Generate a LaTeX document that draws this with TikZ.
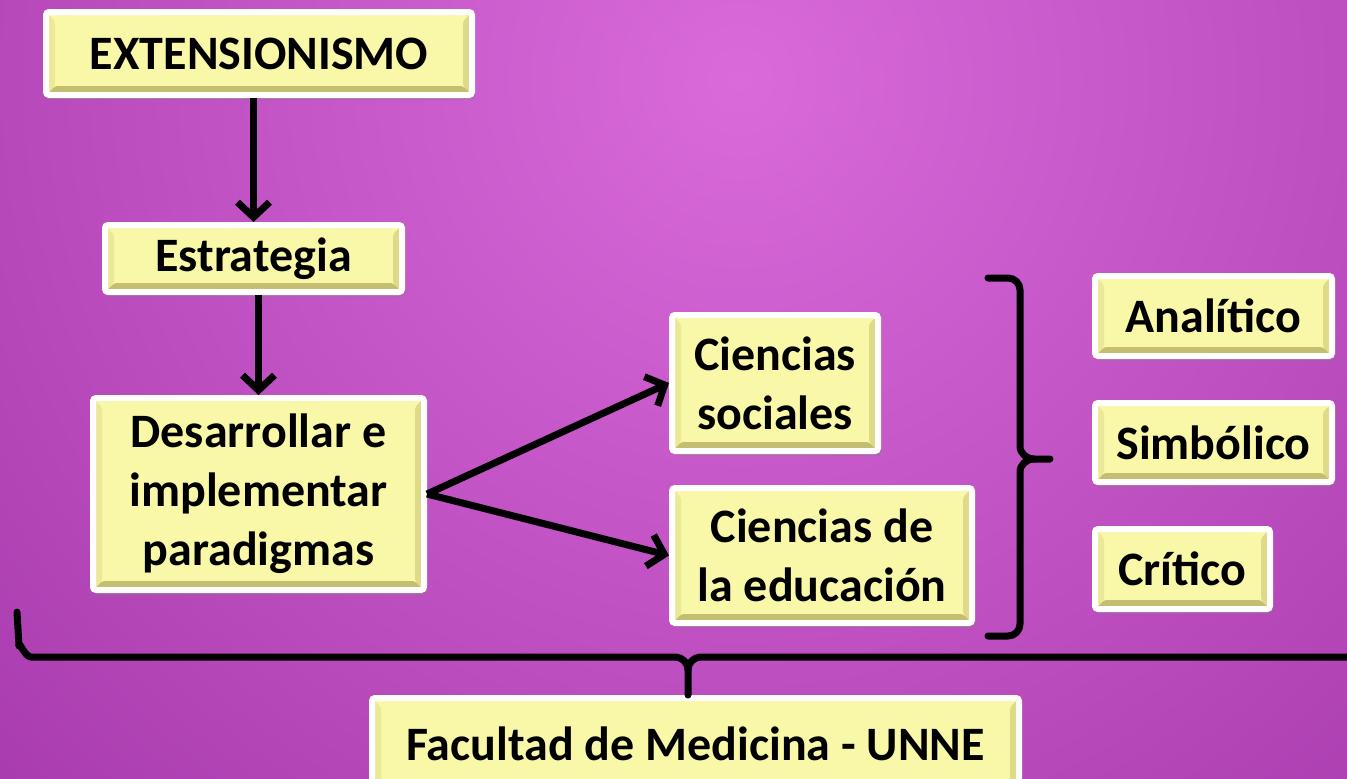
\documentclass[tikz,border=0pt]{standalone}
\usepackage{fontspec}
\setmainfont{Carlito}
\usetikzlibrary{arrows.meta,shadows}

\definecolor{bglight}{RGB}{218,106,218}
\definecolor{bgdark}{RGB}{146,38,154}
\definecolor{boxfill}{RGB}{249,247,168}
\definecolor{bevbottom}{RGB}{196,190,112}
\definecolor{bevright}{RGB}{222,218,136}
\definecolor{bevleft}{RGB}{236,233,150}

\tikzset{
  box/.style={draw=white, line width=6pt, rounded corners=3pt, fill=boxfill,
    align=center, inner sep=0pt,
    font=\fontsize{48}{59}\selectfont\bfseries,
    drop shadow={shadow xshift=3pt, shadow yshift=-5pt, opacity=0.35},
    path picture={
      \fill[bevbottom] (path picture bounding box.south west) -- (path picture bounding box.south east)
        -- ([shift={(-9pt,9pt)}]path picture bounding box.south east) -- ([shift={(9pt,9pt)}]path picture bounding box.south west) -- cycle;
      \fill[bevright] (path picture bounding box.south east) -- (path picture bounding box.north east)
        -- ([shift={(-9pt,-9pt)}]path picture bounding box.north east) -- ([shift={(-9pt,9pt)}]path picture bounding box.south east) -- cycle;
      \fill[bevleft] (path picture bounding box.south west) -- (path picture bounding box.north west)
        -- ([shift={(9pt,-9pt)}]path picture bounding box.north west) -- ([shift={(9pt,9pt)}]path picture bounding box.south west) -- cycle;
    }},
  arrow/.style={line width=7pt, -{Straight Barb[length=15pt,width=32pt]}},
  brace/.style={line width=7pt, line cap=round, line join=round}
}

\begin{document}
\begin{tikzpicture}[x=1pt, y=-1pt]
  \useasboundingbox (0,0) rectangle (1347,779);
  \shade[inner color=bglight, outer color=bgdark] (740,80) circle (1500);

  \node[box, minimum width=426, minimum height=83] at (259,53.5) (ext) {EXTENSIONISMO};
  \node[box, minimum width=297, minimum height=67] at (253.5,258.5) (estr) {Estrategia};
  \node[box, minimum width=331, minimum height=192] at (258.5,494) (des) {Desarrollar e\\implementar\\paradigmas};
  \node[box, minimum width=206, minimum height=136] at (775,383) (soc) {Ciencias\\sociales};
  \node[box, minimum width=300, minimum height=135] at (822,555.5) (edu) {Ciencias de\\la educación};
  \node[box, minimum width=237, minimum height=80] at (1213.5,316) (ana) {Analítico};
  \node[box, minimum width=237, minimum height=79] at (1213.5,442.5) (sim) {Simbólico};
  \node[box, minimum width=175, minimum height=80] at (1182.5,569) (cri) {Crítico};
  \node[box, minimum width=647, minimum height=92] at (695.5,744) (fac) {Facultad de Medicina - UNNE};

  \draw[arrow] (ext.south -| estr.north) -- (estr.north);
  \draw[arrow] (estr.south -| des.north) -- (des.north);
  \draw[arrow] (des.east) -- (soc.west);
  \draw[arrow] (des.east) -- (edu.west);

  \draw[brace] (988,278) -- (1008,278) to[out=0,in=90] (1020,290) -- (1020,446)
    to[out=-90,in=180] (1034,459) -- (1050,459);
  \draw[brace] (1034,459) to[out=180,in=90] (1020,472) -- (1020,624)
    to[out=-90,in=0] (1008,636) -- (988,636);
  \draw[brace] (17,612) -- (19,646) to[out=90,in=180] (31,657) -- (675,657)
    to[out=0,in=90] (688,670) -- (688,695);
  \draw[brace] (688,670) to[out=90,in=180] (701,657) -- (1360,657);
\end{tikzpicture}
\end{document}
